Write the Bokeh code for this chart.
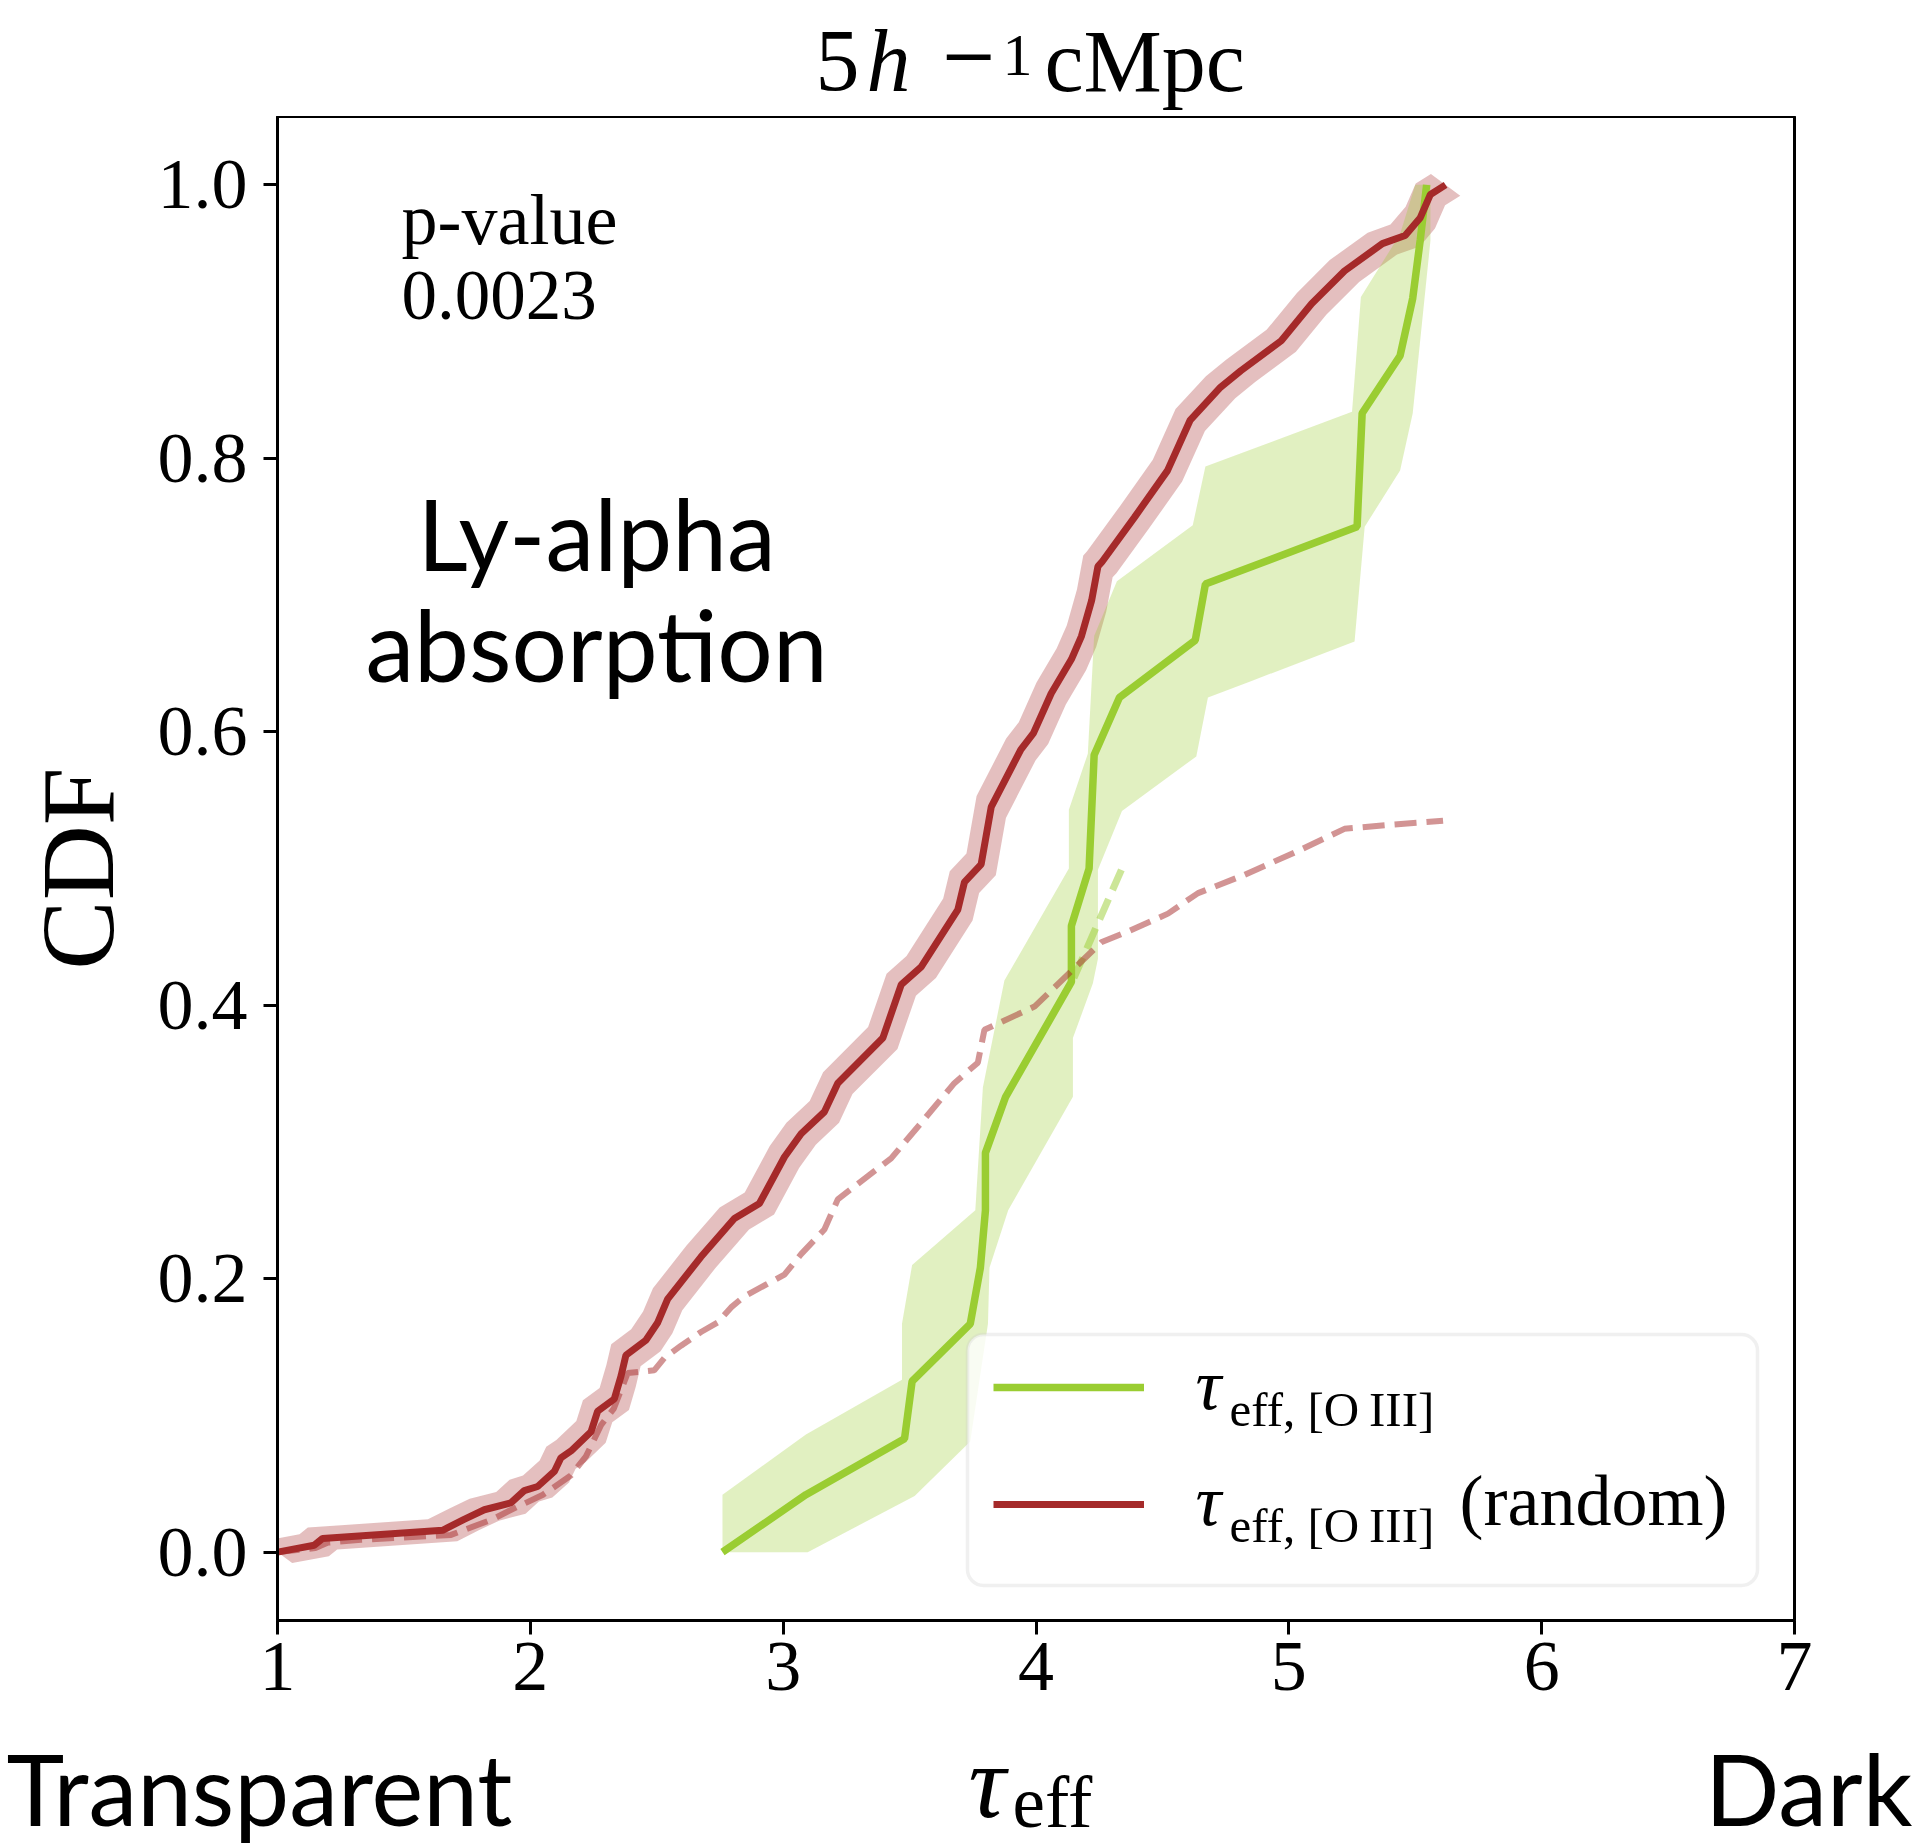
import numpy as np
from bokeh.plotting import figure
from bokeh.layouts import column
from bokeh.models import (Label, Legend, LegendItem, BoxAnnotation, FixedTicker,
                          PrintfTickFormatter, Range1d)
from bokeh.embed import file_html
from bokeh.resources import INLINE

# ---------------- data ----------------
# tau_eff,[OIII] (random) median CDF
random_tau = [1.0, 1.145, 1.178, 1.653, 1.738, 1.818, 1.923, 1.976, 2.029, 2.095, 2.121, 2.161,
              2.24, 2.266, 2.332, 2.359, 2.378, 2.457, 2.504, 2.543, 2.675, 2.807, 2.906, 3.005,
              3.071, 3.163, 3.216, 3.394, 3.467, 3.546, 3.691, 3.717, 3.783, 3.823, 3.94, 3.99,
              4.06, 4.14, 4.18, 4.22, 4.245, 4.26, 4.39, 4.52, 4.61, 4.73, 4.81, 4.97, 5.09,
              5.22, 5.37, 5.46, 5.52, 5.56, 5.62]
random_cdf = [0.0, 0.005, 0.010, 0.016, 0.024, 0.031, 0.036, 0.045, 0.048, 0.059, 0.069, 0.074,
              0.088, 0.103, 0.112, 0.129, 0.144, 0.155, 0.168, 0.185, 0.216, 0.244, 0.255, 0.289,
              0.306, 0.322, 0.343, 0.376, 0.415, 0.428, 0.470, 0.490, 0.503, 0.545, 0.587, 0.599,
              0.628, 0.653, 0.670, 0.696, 0.721, 0.724, 0.757, 0.791, 0.828, 0.852, 0.864, 0.886,
              0.913, 0.937, 0.957, 0.963, 0.976, 0.993, 1.0]

# dashed (random, partial) CDF
random_dash_tau = [1.0, 1.15, 1.2, 1.33, 1.686, 1.85, 1.936, 2.05, 2.16, 2.22, 2.28, 2.33, 2.385,
                   2.49, 2.53, 2.596, 2.675, 2.741, 2.794, 2.846, 3.005, 3.071, 3.163, 3.216,
                   3.335, 3.427, 3.546, 3.677, 3.77, 3.796, 3.994, 4.073, 4.258, 4.364, 4.522,
                   4.641, 4.82, 5.05, 5.22, 5.40, 5.61]
random_dash_cdf = [0.0, 0.003, 0.007, 0.009, 0.0126, 0.024, 0.032, 0.042, 0.056, 0.070, 0.093,
                   0.105, 0.131, 0.133, 0.142, 0.151, 0.161, 0.168, 0.179, 0.187, 0.203, 0.218,
                   0.236, 0.258, 0.275, 0.288, 0.314, 0.343, 0.358, 0.382, 0.399, 0.413, 0.446,
                   0.454, 0.467, 0.482, 0.495, 0.514, 0.529, 0.532, 0.535]

# tau_eff,[OIII] CDF
oiii_tau = [2.76, 3.09, 3.48, 3.51, 3.74, 3.78, 3.80, 3.80, 3.88, 4.14, 4.14, 4.21, 4.23, 4.33,
            4.63, 4.67, 5.27, 5.29, 5.44, 5.49, 5.52, 5.545]
oiii_cdf = [0.0, 0.042, 0.083, 0.125, 0.167, 0.208, 0.25, 0.292, 0.333, 0.417, 0.458, 0.50,
            0.583, 0.625, 0.667, 0.708, 0.75, 0.833, 0.875, 0.917, 0.96, 1.0]

# band around tau_eff,[OIII] CDF (upper-left edge, lower-right edge)
oiii_band_left_tau = [2.76, 2.76, 3.09, 3.47, 3.47, 3.51, 3.76, 3.79, 3.875, 4.13, 4.13, 4.205,
                      4.23, 4.32, 4.62, 4.67, 5.25, 5.285, 5.44, 5.50]
oiii_band_left_cdf = [0.0, 0.042, 0.086, 0.126, 0.167, 0.21, 0.25, 0.34, 0.418, 0.50, 0.543,
                      0.584, 0.670, 0.710, 0.751, 0.794, 0.834, 0.918, 0.964, 1.0]
oiii_band_right_tau = [5.56, 5.56, 5.49, 5.44, 5.30, 5.26, 4.85, 4.68, 4.634, 4.34, 4.245, 4.245,
                       4.225, 4.146, 4.146, 3.89, 3.816, 3.81, 3.74, 3.52, 3.097]
oiii_band_right_cdf = [1.0, 0.959, 0.833, 0.791, 0.75, 0.666, 0.637, 0.625, 0.582, 0.542, 0.499,
                       0.434, 0.416, 0.376, 0.333, 0.25, 0.208, 0.167, 0.081, 0.041, 0.0]

# short dashed extension of the [OIII] CDF
oiii_dash_tau = [4.15, 4.34]
oiii_dash_cdf = [0.42, 0.50]

x_ticks = [1, 2, 3, 4, 5, 6, 7]
y_ticks = [0.0, 0.2, 0.4, 0.6, 0.8, 1.0]
p_value = "0.0023"

# ---------------- styling ----------------
GREEN = "#9acd32"
RED = "#a52a2a"
SERIF = "Liberation Serif"
SANS = "Lato"
BAND_DX, BAND_DY = 0.058, 0.008

W, H = 1922, 1845
FL, FR, FT, FB = 277, 1794, 116, 1620   # plot frame on the page
MAIN_BOTTOM = 104                         # room for x tick labels below the frame
STRIP_TOP_H = FT
STRIP_BOT_Y0 = FB + MAIN_BOTTOM
STRIP_BOT_H = H - STRIP_BOT_Y0
XMIN, XMAX, YMIN, YMAX = 1.0, 7.0, -0.05, 1.05
BASE_CORR = 0.355   # baseline correction factor (fraction of font size)


def px_x(px):
    return XMIN + (px - FL) * (XMAX - XMIN) / (FR - FL)


def px_y(py):
    return YMAX - (py - FT) * (YMAX - YMIN) / (FB - FT)


# ---------------- main plot ----------------
p = figure(width=W, height=(FB - FT) + MAIN_BOTTOM, output_backend="svg",
           toolbar_location=None,
           x_range=Range1d(XMIN, XMAX), y_range=Range1d(YMIN, YMAX),
           min_border_left=FL, min_border_right=W - FR,
           min_border_top=0, min_border_bottom=MAIN_BOTTOM)
p.frame_align = False
p.grid.visible = False
p.background_fill_color = "white"
p.border_fill_color = "white"
p.outline_line_color = "black"
p.outline_line_width = 3

for ax in (p.xaxis[0], p.yaxis[0]):
    ax.axis_line_width = 3
    ax.major_tick_line_width = 3
    ax.major_tick_out = 14
    ax.major_tick_in = 0
    ax.minor_tick_line_color = None
    ax.major_label_text_font = SERIF
    ax.major_label_text_font_size = "72px"
    ax.major_label_text_color = "black"
p.xaxis[0].ticker = FixedTicker(ticks=x_ticks)
p.yaxis[0].ticker = FixedTicker(ticks=y_ticks)
p.yaxis[0].formatter = PrintfTickFormatter(format="%.1f")
p.xaxis[0].major_label_standoff = 8
p.yaxis[0].major_label_standoff = 16
p.yaxis[0].axis_label = "CDF"
p.yaxis[0].axis_label_text_font = SERIF
p.yaxis[0].axis_label_text_font_size = "104px"
p.yaxis[0].axis_label_text_font_style = "normal"
p.yaxis[0].axis_label_text_color = "black"
p.yaxis[0].axis_label_standoff = 20

# red band
rt = np.array(random_tau)
rc = np.array(random_cdf)
band_x = list(rt - BAND_DX) + list((rt + BAND_DX)[::-1])
band_y = list(rc + BAND_DY) + list((rc - BAND_DY)[::-1])
p.patch(band_x, band_y, fill_color=RED, fill_alpha=0.3, line_color=None)

# green band
p.patch(oiii_band_left_tau + oiii_band_right_tau, oiii_band_left_cdf + oiii_band_right_cdf,
        fill_color=GREEN, fill_alpha=0.3, line_color=None)

g_line = p.line(oiii_tau, oiii_cdf, line_color=GREEN, line_width=7.5)
p.line(oiii_dash_tau, oiii_dash_cdf, line_color=GREEN, line_alpha=0.5, line_width=7,
       line_dash="22 10")
p.line(random_dash_tau, random_dash_cdf, line_color=RED, line_alpha=0.5, line_width=6,
       line_dash="22 10")
r_line = p.line(random_tau, random_cdf, line_color=RED, line_width=7)

# legend frame
p.add_layout(BoxAnnotation(left=px_x(967), right=px_x(1757), top=px_y(1334), bottom=px_y(1585),
                           fill_color="white", fill_alpha=0.8, line_color="#cccccc",
                           line_width=3.5, border_radius=16))
legend = Legend(items=[LegendItem(label=" ", renderers=[g_line]),
                       LegendItem(label=" ", renderers=[r_line])],
                location=(703, 63), margin=0, padding=13, spacing=37,
                glyph_height=80, glyph_width=151, label_text_font_size="2px",
                background_fill_alpha=0, border_line_alpha=0, label_width=10)
p.add_layout(legend)


def lab_main(text, x, y, size, font=SERIF, style="normal", align="left"):
    # x, y: page pixels (left / baseline) -> frame screen units
    yy = y - BASE_CORR * size
    p.add_layout(Label(x=x - FL, y=FB - yy, x_units="screen", y_units="screen",
                       text=text, text_font=font, text_font_size=f"{size}px",
                       text_font_style=style, text_align=align,
                       text_baseline="alphabetic", text_color="black"))


# legend labels
lab_main("τ", 1195, 1410, 72, style="italic")
lab_main("eff, [O\u2009III]", 1229, 1426, 49)
lab_main("τ", 1195, 1526, 72, style="italic")
lab_main("eff, [O\u2009III]", 1229, 1542, 49)
lab_main("(random)", 1459, 1526, 72)

# annotations
lab_main("p-value", 401, 245, 72)
lab_main(p_value, 401, 320, 71)
lab_main("Ly-alpha", 596, 567, 98, font=SANS, align="center")
lab_main("absorption", 596, 678, 98, font=SANS, align="center")


# ---------------- text strips (title above, x labels below) ----------------
def strip(height):
    s = figure(width=W, height=height, output_backend="svg", toolbar_location=None,
               x_range=Range1d(0, W), y_range=Range1d(height, 0),
               x_axis_type=None, y_axis_type=None, min_border=0)
    s.frame_align = False
    s.grid.visible = False
    s.outline_line_color = None
    s.background_fill_color = "white"
    s.border_fill_color = "white"
    return s


top = strip(STRIP_TOP_H)
bot = strip(STRIP_BOT_H)


def lab_strip(s, y0, text, x, y, size, font=SERIF, style="normal", align="left"):
    s.add_layout(Label(x=x, y=y - y0 - BASE_CORR * size, text=text, text_font=font,
                       text_font_size=f"{size}px", text_font_style=style,
                       text_align=align, text_baseline="alphabetic", text_color="black"))


# title  "5 h^-1 cMpc"
lab_strip(top, 0, "5", 815, 92, 88)
lab_strip(top, 0, "h", 866, 92, 88, style="italic")
lab_strip(top, 0, "\u2212", 939, 78, 70, font="DejaVu Serif")
lab_strip(top, 0, "1", 1002, 76, 60)
lab_strip(top, 0, "cMpc", 1044, 92, 88)

# bottom labels
lab_strip(bot, STRIP_BOT_Y0, "Transparent", 6, 1822, 98, font=SANS)
lab_strip(bot, STRIP_BOT_Y0, "τ", 968, 1818, 104, style="italic")
lab_strip(bot, STRIP_BOT_Y0, "eff", 1012, 1828, 73)
lab_strip(bot, STRIP_BOT_Y0, "Dark", 1912, 1822, 98, font=SANS, align="right")

page = column(top, p, bot, spacing=0)
open("out.html", "w").write(file_html(page, INLINE))
